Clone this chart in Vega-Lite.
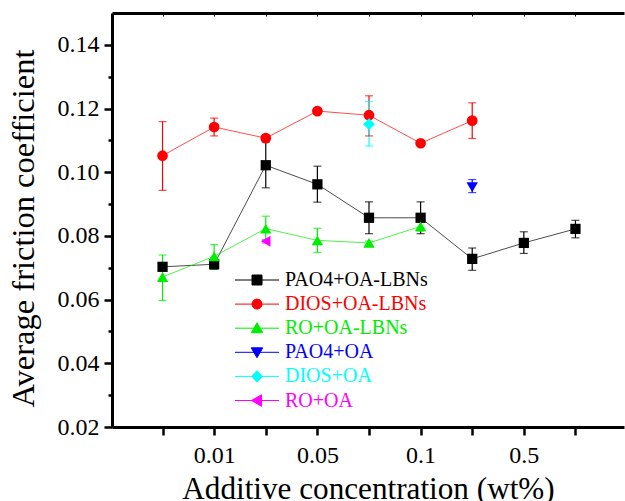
{
  "$schema": "https://vega.github.io/schema/vega-lite/v6.json",
  "width": 512,
  "height": 414,
  "autosize": {"type": "none"},
  "padding": {"left": 112, "top": 13, "right": 1, "bottom": 74},
  "background": "white",
  "data": {"values": [
    {"series": "PAO4+OA-LBNs", "conc": 0.005, "val": 0.0703, "lo": 0.0697, "hi": 0.0709},
    {"series": "PAO4+OA-LBNs", "conc": 0.01, "val": 0.0711, "lo": 0.0695, "hi": 0.0725},
    {"series": "PAO4+OA-LBNs", "conc": 0.025, "val": 0.1022, "lo": 0.0951, "hi": 0.1095},
    {"series": "PAO4+OA-LBNs", "conc": 0.05, "val": 0.0962, "lo": 0.0906, "hi": 0.1019},
    {"series": "PAO4+OA-LBNs", "conc": 0.075, "val": 0.0857, "lo": 0.0807, "hi": 0.0907},
    {"series": "PAO4+OA-LBNs", "conc": 0.1, "val": 0.0857, "lo": 0.0807, "hi": 0.0907},
    {"series": "PAO4+OA-LBNs", "conc": 0.25, "val": 0.0728, "lo": 0.0692, "hi": 0.0762},
    {"series": "PAO4+OA-LBNs", "conc": 0.5, "val": 0.0778, "lo": 0.0745, "hi": 0.0813},
    {"series": "PAO4+OA-LBNs", "conc": 0.75, "val": 0.0822, "lo": 0.0794, "hi": 0.0849},
    {"series": "DIOS+OA-LBNs", "conc": 0.005, "val": 0.1052, "lo": 0.0943, "hi": 0.1159},
    {"series": "DIOS+OA-LBNs", "conc": 0.01, "val": 0.1142, "lo": 0.1114, "hi": 0.117},
    {"series": "DIOS+OA-LBNs", "conc": 0.025, "val": 0.1107, "lo": 0.1101, "hi": 0.1113},
    {"series": "DIOS+OA-LBNs", "conc": 0.05, "val": 0.1192, "lo": 0.1185, "hi": 0.1199},
    {"series": "DIOS+OA-LBNs", "conc": 0.075, "val": 0.1179, "lo": 0.1114, "hi": 0.124},
    {"series": "DIOS+OA-LBNs", "conc": 0.1, "val": 0.1091, "lo": 0.1086, "hi": 0.1096},
    {"series": "DIOS+OA-LBNs", "conc": 0.25, "val": 0.1162, "lo": 0.1106, "hi": 0.1218},
    {"series": "RO+OA-LBNs", "conc": 0.005, "val": 0.0671, "lo": 0.0597, "hi": 0.074},
    {"series": "RO+OA-LBNs", "conc": 0.01, "val": 0.0736, "lo": 0.0695, "hi": 0.0773},
    {"series": "RO+OA-LBNs", "conc": 0.025, "val": 0.0823, "lo": 0.0785, "hi": 0.0862},
    {"series": "RO+OA-LBNs", "conc": 0.05, "val": 0.0786, "lo": 0.0748, "hi": 0.0824},
    {"series": "RO+OA-LBNs", "conc": 0.075, "val": 0.0778, "lo": 0.0772, "hi": 0.0784},
    {"series": "RO+OA-LBNs", "conc": 0.1, "val": 0.083, "lo": 0.0815, "hi": 0.0845},
    {"series": "PAO4+OA", "conc": 0.25, "val": 0.0953, "lo": 0.0936, "hi": 0.0977},
    {"series": "DIOS+OA", "conc": 0.075, "val": 0.1151, "lo": 0.1082, "hi": 0.1222},
    {"series": "RO+OA", "conc": 0.025, "val": 0.0783, "lo": 0.0778, "hi": 0.0788}
  ]},
  "layer": [
    {
      "mark": {"type": "line", "strokeWidth": 1, "opacity": 0.7},
      "encoding": {
        "color": {"field": "series", "type": "nominal", "legend": null,
          "scale": {
            "domain": ["PAO4+OA-LBNs", "DIOS+OA-LBNs", "RO+OA-LBNs", "PAO4+OA", "DIOS+OA", "RO+OA"],
            "range": ["#000000", "#ff0000", "#00ee00", "#0000ff", "#00ffff", "#ff00ff"]
          }
        },
        "x": {
          "field": "conc", "type": "ordinal",
          "scale": {"type": "point", "domain": [0.005, 0.01, 0.025, 0.05, 0.075, 0.1, 0.25, 0.5, 0.75], "padding": 0.96, "align": 0.51},
          "axis": {
            "orient": "bottom",
            "title": "Additive concentration (wt%)",
            "labelExpr": "indexof([0.01, 0.05, 0.1, 0.5], datum.value) >= 0 ? datum.label : ''",
            "labelAngle": 0,
            "labelFont": "Liberation Serif", "labelFontSize": 24, "labelColor": "black", "labelPadding": 8,
            "titleFont": "Liberation Serif", "titleFontSize": 31.2, "titleFontWeight": "normal", "titleColor": "black", "titlePadding": 6,
            "tickSize": 8, "tickWidth": 2.5, "tickColor": "black",
            "domainWidth": 3, "domainColor": "black", "grid": false
          }
        },
        "y": {
          "field": "val", "type": "quantitative",
          "scale": {"domain": [0.02, 0.15], "nice": false, "zero": false},
          "axis": {
            "orient": "left",
            "title": "Average friction coefficient",
            "values": [0.02, 0.04, 0.06, 0.08, 0.1, 0.12, 0.14],
            "format": ".2f",
            "labelFont": "Liberation Serif", "labelFontSize": 24, "labelColor": "black", "labelPadding": 5,
            "titleFont": "Liberation Serif", "titleFontSize": 32.5, "titleFontWeight": "normal", "titleColor": "black", "titlePadding": 17,
            "titleY": 215,
            "tickSize": 8, "tickWidth": 2.5, "tickColor": "black",
            "domainWidth": 3, "domainColor": "black", "grid": false
          }
        }
      }
    },
    {
      "mark": {"type": "rule", "strokeWidth": 1.2},
      "encoding": {
        "color": {"field": "series", "type": "nominal", "legend": null},
        "x": {
          "field": "conc", "type": "ordinal",
          "axis": {"orient": "top", "title": null, "labels": false, "tickSize": -3, "tickWidth": 1, "tickColor": "black", "domainWidth": 3, "domainColor": "black", "grid": false}
        },
        "y": {
          "field": "lo", "type": "quantitative",
          "axis": {"orient": "left", "title": null, "labels": false, "values": [0.03, 0.05, 0.07, 0.09, 0.11, 0.13], "tickSize": 4, "tickWidth": 2.5, "tickColor": "black", "domain": false, "grid": false}
        },
        "y2": {"field": "hi"}
      }
    },
    {
      "mark": {"type": "tick", "size": 8, "thickness": 1.2},
      "encoding": {
        "color": {"field": "series", "type": "nominal", "legend": null},
        "x": {"field": "conc", "type": "ordinal", "axis": null},
        "y": {"field": "lo", "type": "quantitative", "axis": null}
      }
    },
    {
      "mark": {"type": "tick", "size": 8, "thickness": 1.2},
      "encoding": {
        "color": {"field": "series", "type": "nominal", "legend": null},
        "x": {"field": "conc", "type": "ordinal", "axis": null},
        "y": {"field": "hi", "type": "quantitative", "axis": null}
      }
    },
    {
      "transform": [{"filter": "datum.series === 'PAO4+OA-LBNs'"}],
      "mark": {"type": "point", "shape": "square", "filled": true, "size": 105, "opacity": 1},
      "encoding": {
        "color": {"field": "series", "type": "nominal", "legend": null},
        "x": {"field": "conc", "type": "ordinal", "axis": null},
        "y": {"field": "val", "type": "quantitative", "axis": null}
      }
    },
    {
      "transform": [{"filter": "datum.series === 'DIOS+OA-LBNs'"}],
      "mark": {"type": "point", "shape": "circle", "filled": true, "size": 115, "opacity": 1},
      "encoding": {
        "color": {"field": "series", "type": "nominal", "legend": null},
        "x": {"field": "conc", "type": "ordinal", "axis": null},
        "y": {"field": "val", "type": "quantitative", "axis": null}
      }
    },
    {
      "transform": [{"filter": "datum.series === 'RO+OA-LBNs'"}],
      "mark": {"type": "point", "shape": "triangle-up", "filled": true, "size": 130, "opacity": 1},
      "encoding": {
        "color": {"field": "series", "type": "nominal", "legend": null},
        "x": {"field": "conc", "type": "ordinal", "axis": null},
        "y": {"field": "val", "type": "quantitative", "axis": null}
      }
    },
    {
      "transform": [{"filter": "datum.series === 'PAO4+OA'"}],
      "mark": {"type": "point", "shape": "triangle-down", "filled": true, "size": 130, "opacity": 1},
      "encoding": {
        "color": {"field": "series", "type": "nominal", "legend": null},
        "x": {"field": "conc", "type": "ordinal", "axis": null},
        "y": {"field": "val", "type": "quantitative", "axis": null}
      }
    },
    {
      "transform": [{"filter": "datum.series === 'DIOS+OA'"}],
      "mark": {"type": "point", "shape": "diamond", "filled": true, "size": 140, "opacity": 1},
      "encoding": {
        "color": {"field": "series", "type": "nominal", "legend": null},
        "x": {"field": "conc", "type": "ordinal", "axis": null},
        "y": {"field": "val", "type": "quantitative", "axis": null}
      }
    },
    {
      "transform": [{"filter": "datum.series === 'RO+OA'"}],
      "mark": {"type": "point", "shape": "triangle-left", "filled": true, "size": 120, "opacity": 1},
      "encoding": {
        "color": {"field": "series", "type": "nominal", "legend": null},
        "x": {"field": "conc", "type": "ordinal", "axis": null},
        "y": {"field": "val", "type": "quantitative", "axis": null}
      }
    },
    {
      "transform": [{"filter": "datum.val < 0"}],
      "mark": {"type": "point", "filled": true, "size": 100, "strokeWidth": 1, "opacity": 1},
      "encoding": {
        "x": {"field": "conc", "type": "ordinal", "axis": null},
        "y": {"field": "val", "type": "quantitative", "axis": null},
        "color": {
          "field": "series", "type": "nominal",
          "legend": {
            "title": null, "orient": "none", "legendX": 135, "legendY": 257, "padding": 0,
            "rowPadding": 4.1, "labelOffset": 18, "symbolStrokeWidth": 1,
            "labelFont": "Liberation Serif", "labelFontSize": 20, "labelLimit": 300,
            "labelColor": {"expr": "scale('color', datum.value)"}
          }
        },
        "stroke": {
          "field": "series", "type": "nominal",
          "scale": {
            "domain": ["PAO4+OA-LBNs", "DIOS+OA-LBNs", "RO+OA-LBNs", "PAO4+OA", "DIOS+OA", "RO+OA"],
            "range": ["#000000", "#ff0000", "#00ee00", "#0000ff", "#00ffff", "#ff00ff"]
          },
          "legend": {
            "title": null, "orient": "none", "legendX": 135, "legendY": 257, "padding": 0,
            "rowPadding": 4.1, "labelOffset": 18, "symbolStrokeWidth": 1,
            "labelFont": "Liberation Serif", "labelFontSize": 20, "labelLimit": 300,
            "labelColor": {"expr": "scale('color', datum.value)"}
          }
        },
        "shape": {
          "field": "series", "type": "nominal",
          "scale": {
            "domain": ["PAO4+OA-LBNs", "DIOS+OA-LBNs", "RO+OA-LBNs", "PAO4+OA", "DIOS+OA", "RO+OA"],
            "range": [
              "M-4.4,0H4.4M-1,-1H1V1H-1Z",
              "M-4.4,0H4.4M-1,0A1,1,0,1,1,1,0A1,1,0,1,1,-1,0Z",
              "M-4.4,0H4.4M0,-1.1L1.15,0.9H-1.15Z",
              "M-4.4,0H4.4M0,1.1L1.15,-0.9H-1.15Z",
              "M-4.4,0H4.4M0,-1.15L1.05,0L0,1.15L-1.05,0Z",
              "M-4.4,0H4.4M-1.1,0L0.9,-1.15V1.15Z"
            ]
          },
          "legend": {
            "title": null, "orient": "none", "legendX": 135, "legendY": 257, "padding": 0,
            "rowPadding": 4.1, "labelOffset": 18, "symbolStrokeWidth": 1,
            "labelFont": "Liberation Serif", "labelFontSize": 20, "labelLimit": 300,
            "labelColor": {"expr": "scale('color', datum.value)"}
          }
        }
      }
    }
  ],
  "resolve": {
    "axis": {"x": "independent", "y": "independent"},
    "legend": {"color": "independent", "stroke": "independent", "shape": "independent"}
  },
  "config": {"view": {"stroke": null}, "font": "Liberation Serif"}
}
